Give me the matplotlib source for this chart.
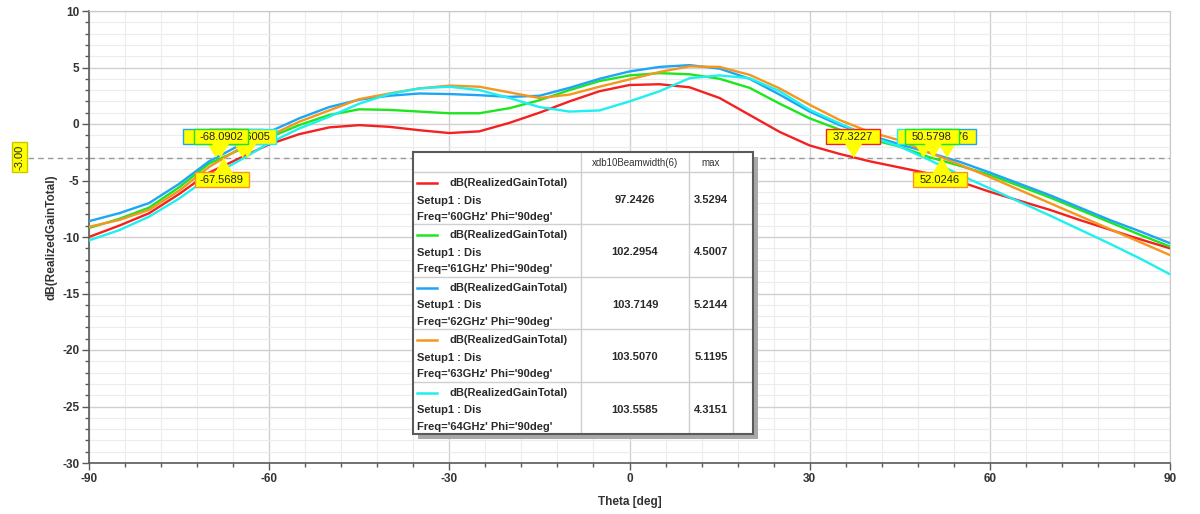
import matplotlib.pyplot as plt
from matplotlib.patches import Rectangle, Polygon
from matplotlib.ticker import MultipleLocator

plt.rcParams['font.family'] = ['Liberation Sans', 'DejaVu Sans']
plt.rcParams['axes.unicode_minus'] = False

# ---- data ----
theta = list(range(-90, 91, 5))

gain_60 = [-10.0, -9.0, -7.9, -6.2, -4.3, -3.05, -1.8, -0.9, -0.3, -0.1, -0.25, -0.55, -0.8,
           -0.65, 0.1, 1.0, 2.0, 2.9, 3.45, 3.52, 3.25, 2.3, 0.8, -0.7, -1.9, -2.65, -3.3,
           -3.85, -4.4, -5.1, -6.0, -6.8, -7.6, -8.5, -9.35, -10.2, -11.0]
gain_61 = [-9.2, -8.4, -7.4, -5.6, -3.5, -2.3, -1.2, -0.1, 0.8, 1.3, 1.25, 1.1, 0.95,
           0.95, 1.4, 2.1, 3.0, 3.8, 4.3, 4.5, 4.4, 4.0, 3.2, 1.8, 0.5, -0.5, -1.35,
           -2.0, -2.95, -3.7, -4.5, -5.5, -6.5, -7.6, -8.7, -9.8, -10.85]
gain_62 = [-8.6, -7.9, -7.0, -5.3, -3.3, -1.9, -0.7, 0.5, 1.5, 2.15, 2.5, 2.7, 2.65,
           2.55, 2.4, 2.5, 3.2, 4.0, 4.65, 5.05, 5.21, 4.9, 4.0, 2.6, 1.1, -0.1, -1.0,
           -1.8, -2.55, -3.35, -4.3, -5.3, -6.3, -7.4, -8.5, -9.5, -10.55]
gain_63 = [-9.1, -8.5, -7.6, -5.9, -3.8, -2.2, -1.05, 0.2, 1.2, 2.2, 2.7, 3.15, 3.4,
           3.3, 2.8, 2.3, 2.6, 3.3, 3.95, 4.6, 5.1, 5.05, 4.35, 3.15, 1.7, 0.35, -0.7,
           -1.45, -2.55, -3.6, -4.7, -5.85, -7.0, -8.15, -9.3, -10.45, -11.6]
gain_64 = [-10.3, -9.4, -8.2, -6.6, -4.7, -3.25, -1.7, -0.4, 0.65, 1.8, 2.65, 3.15, 3.3,
           3.0, 2.3, 1.5, 1.1, 1.2, 2.0, 2.9, 4.05, 4.3, 4.05, 2.9, 1.25, 0.05, -1.1,
           -2.0, -3.2, -4.5, -5.7, -6.9, -8.1, -9.35, -10.6, -11.9, -13.3]

freqs = ['60GHz', '61GHz', '62GHz', '63GHz', '64GHz']
beamwidth = ['97.2426', '102.2954', '103.7149', '103.5070', '103.5585']
gmax = ['3.5294', '4.5007', '5.2144', '5.1195', '4.3151']

left_cross = [-64.4217, -68.0902, -68.8814, -67.5689, -63.6005]
right_cross = [37.3227, 50.5798, 52.8876, 52.0246, 48.9311]

colors = ['#f52020', '#1ee61e', '#1ea5f5', '#f5961e', '#1ef0f0']
curves = [gain_60, gain_61, gain_62, gain_63, gain_64]

fig = plt.figure(figsize=(12, 5.14), dpi=100)
ax = fig.add_axes([89/1200, 1-463/514, 1081/1200, 452/514])

for g, c in zip(curves, colors):
    ax.plot(theta, g, color=c, lw=1.7, zorder=3)

ax.set_xlim(-90, 90)
ax.set_ylim(-30, 10)
ax.set_xticks(range(-90, 91, 30))
ax.set_yticks(range(-30, 11, 5))
ax.xaxis.set_minor_locator(MultipleLocator(6))
ax.yaxis.set_minor_locator(MultipleLocator(1))
ax.grid(which='major', color='#d0d0d0', lw=1.0)
ax.grid(which='minor', color='#ececec', lw=0.8)
ax.set_axisbelow(True)
for s in ['left', 'bottom']:
    ax.spines[s].set_color('#5a5a5a')
    ax.spines[s].set_linewidth(1.2)
for s in ['top', 'right']:
    ax.spines[s].set_color('#c8c8c8')
ax.tick_params(which='major', direction='out', length=5, width=1, color='#5a5a5a',
               labelsize=8.5, labelcolor='#333333', pad=2)
ax.tick_params(which='minor', direction='out', length=3, width=1, color='#5a5a5a')
for lbl in ax.get_xticklabels() + ax.get_yticklabels():
    lbl.set_fontweight('bold')
ax.set_xlabel('Theta [deg]', fontsize=8.5, fontweight='bold', color='#333333', labelpad=8)
ax.set_ylabel('dB(RealizedGainTotal)', fontsize=8.5, fontweight='bold', color='#333333', labelpad=3)

# -3 dB reference line
ax.axhline(-3, color='#9a9a9a', ls=(0, (4, 3)), lw=1, zorder=2)
ax.plot([-90 - 61/6.006, -90], [-3, -3], color='#9a9a9a', ls=(0, (4, 3)), lw=1, clip_on=False)
fig.text(19.5/1200, 1-157/514, '-3.00', rotation=90, ha='center', va='center', fontsize=8,
         color='#222222', bbox=dict(boxstyle='square,pad=0.25', fc='#ffff00', ec='#c8c800', lw=1))


def marker(val, center, color, top, z, show_text=True):
    if top:
        y0, base = -1.77, -1.6
    else:
        y0, base = -5.58, -4.4
    ax.add_patch(Rectangle((center - 4.5, y0), 9, 1.33, fc='#ffff00', ec=color, lw=1, zorder=z))
    ax.add_patch(Polygon([(val - 1.6, base), (val + 1.6, base), (val, -3)], closed=True,
                         fc='#ffff00', ec='none', zorder=z + 0.1))
    if show_text:
        ax.text(center, y0 + 0.66, f'{val:.4f}', ha='center', va='center', fontsize=8,
                color='#222222', zorder=z + 0.2)


# left markers (draw order matters for overlap)
marker(left_cross[0], -65.5, colors[0], True, 6, show_text=False)
marker(left_cross[4], -63.4, colors[4], True, 7)
marker(left_cross[2], -69.8, colors[2], True, 8, show_text=False)
marker(left_cross[1], -68.0, colors[1], True, 9)
marker(left_cross[3], -67.9, colors[3], False, 10)
# right markers
marker(right_cross[0], 37.2, colors[0], True, 6)
marker(right_cross[2], 53.2, colors[2], True, 7)
marker(right_cross[4], 49.1, colors[4], True, 8)
marker(right_cross[1], 50.3, colors[1], True, 9)
marker(right_cross[3], 51.7, colors[3], False, 10)

# ---- legend table ----
tax = fig.add_axes([413/1200, 1-434/514, 340/1200, 282/514])
tax.set_xlim(413, 753)
tax.set_ylim(434, 152)
tax.axis('off')
tax.add_patch(Rectangle((418, 157), 340, 282, fc='#a8a8a8', ec='none', clip_on=False, zorder=0))
tax.add_patch(Rectangle((413, 152), 340, 282, fc='white', ec='none', clip_on=False, zorder=1))
row_h = 52.4
for k in range(5):
    yy = 172 + k * row_h
    tax.plot([413, 753], [yy, yy], color='#cfcfcf', lw=1, zorder=2)
for xx in [581, 689, 733]:
    tax.plot([xx, xx], [152, 434], color='#cfcfcf', lw=1, zorder=2)
tax.add_patch(Rectangle((413, 152), 340, 282, fc='none', ec='#5a5a5a', lw=1.5, clip_on=False, zorder=3))
tax.text(635, 162.5, 'xdb10Beamwidth(6)', ha='center', va='center', fontsize=7, color='#333333')
tax.text(711, 162.5, 'max', ha='center', va='center', fontsize=7, color='#333333')

for i in range(5):
    top = 172 + i * row_h
    tax.plot([417, 437], [top + 11, top + 11], color=colors[i], lw=1.8, zorder=4)
    tax.text(450, top + 11, 'dB(RealizedGainTotal)', va='center', fontsize=8,
             fontweight='bold', color='#2a2a2a', zorder=4)
    tax.text(417, top + 28.5, 'Setup1 : Dis', va='center', fontsize=8,
             fontweight='bold', color='#2a2a2a', zorder=4)
    tax.text(417, top + 45, f"Freq='{freqs[i]}' Phi='90deg'", va='center', fontsize=8,
             fontweight='bold', color='#2a2a2a', zorder=4)
    tax.text(635, top + 28, beamwidth[i], ha='center', va='center', fontsize=8,
             fontweight='bold', color='#2a2a2a', zorder=4)
    tax.text(711, top + 28, gmax[i], ha='center', va='center', fontsize=8,
             fontweight='bold', color='#2a2a2a', zorder=4)

fig.savefig('out.png', dpi=100)
